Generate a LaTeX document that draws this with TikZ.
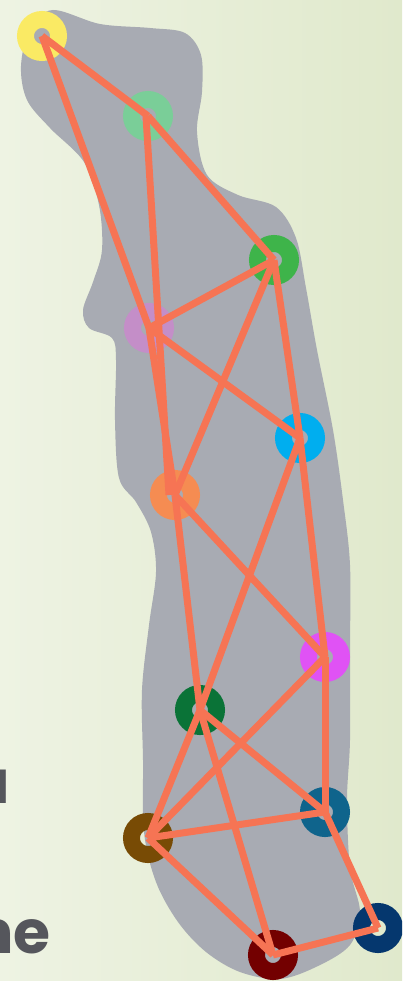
\documentclass[tikz,border=0pt]{standalone}
\usepackage{fontspec}
\newfontfamily\popfont{Poppins}[UprightFont=* Bold]
\definecolor{bgl}{RGB}{238,243,227}
\definecolor{bgr}{RGB}{224,233,204}
\definecolor{blobc}{RGB}{168,171,179}
\definecolor{edgec}{RGB}{246,116,84}
\definecolor{txtc}{RGB}{85,86,92}
\definecolor{cY}{RGB}{250,234,100}
\definecolor{cM}{RGB}{122,206,152}
\definecolor{cG}{RGB}{62,180,74}
\definecolor{cL}{RGB}{196,142,200}
\definecolor{cS}{RGB}{0,174,239}
\definecolor{cO}{RGB}{245,140,82}
\definecolor{cP}{RGB}{224,82,245}
\definecolor{cD}{RGB}{10,115,55}
\definecolor{cT}{RGB}{15,100,140}
\definecolor{cB}{RGB}{120,75,5}
\definecolor{cR}{RGB}{115,0,0}
\definecolor{cN}{RGB}{5,55,110}
\tikzset{
  ring/.style={circle, inner sep=0pt, outer sep=0pt, minimum size=33pt, draw=#1, line width=17pt},
  link/.style={draw=edgec, line width=7pt},
  bigtext/.style={font=\popfont\fontsize{60}{60}\selectfont, text=txtc, inner sep=0pt, anchor=base east}
}
\begin{document}
\begin{tikzpicture}[x=1pt,y=-1pt]
\useasboundingbox (0,0) rectangle (402,981);
\clip (0,0) rectangle (402,981);
\shade[left color=bgl, right color=bgr] (0,0) rectangle (402,981);
% blob
\fill[blobc] plot[smooth cycle, tension=0.55] coordinates {
 (53,10) (100,24) (150,28) (185,33) (201,55) (202,92) (197,132) (207,175)
 (238,195) (276,207) (296,238) (306,288) (317,350) (333,430) (343,500)
 (350,565) (350,650) (350,740) (347,800) (350,868) (360,912) (350,945)
 (318,966) (280,979) (240,972) (206,952) (178,922) (156,882) (144,832)
 (143,760) (142,690) (149,625) (156,572) (151,532) (136,502) (119,478)
 (115,420) (116,360) (112,338) (89,328) (83,310) (93,282) (102,250)
 (99,205) (84,162) (50,128) (27,100) (21,66) (30,28)};
% text
\node[bigtext] (t1) at (10,803) {u};
\node[bigtext] (t2) at (51,953) {ne};
% nodes
\node[ring=cY] (Y) at (42,36) {};
\node[ring=cM] (M) at (148,116) {};
\node[ring=cG] (G) at (274,260) {};
\node[ring=cL] (L) at (149,328) {};
\node[ring=cS] (S) at (300,438) {};
\node[ring=cO] (O) at (175,495) {};
\node[ring=cP] (P) at (325,657) {};
\node[ring=cD] (D) at (200,710) {};
\node[ring=cT] (T) at (325,812) {};
\node[ring=cB] (B) at (148,838) {};
\node[ring=cR] (R) at (273,955) {};
\node[ring=cN] (N) at (378,928) {};
% connectors
\draw[link] (Y.center) -- (M.center);
\draw[link] (Y.center) -- (L.center);
\draw[link] (M.center) -- (G.center);
\draw[link] ([xshift=-2pt]M.center) -- ([xshift=-6pt]O.center);
\draw[link] (G.center) -- (L.center);
\draw[link] (G.center) -- (O.center);
\draw[link] (G.center) -- (S.center);
\draw[link] (L.center) -- (S.center);
\draw[link] (L.center) -- (O.center);
\draw[link] (S.center) -- (D.center);
\draw[link] (S.center) -- (P.center);
\draw[link] (O.center) -- (P.center);
\draw[link] (O.center) -- (D.center);
\draw[link] (P.center) -- (B.center);
\draw[link] (P.center) -- (T.center);
\draw[link] (D.center) -- (T.center);
\draw[link] (D.center) -- (B.center);
\draw[link] (D.center) -- (R.center);
\draw[link] (B.center) -- (T.center);
\draw[link] (B.center) -- (R.center);
\draw[link] (T.center) -- (N.center);
\draw[link] (R.center) -- (N.center);
\end{tikzpicture}
\end{document}
